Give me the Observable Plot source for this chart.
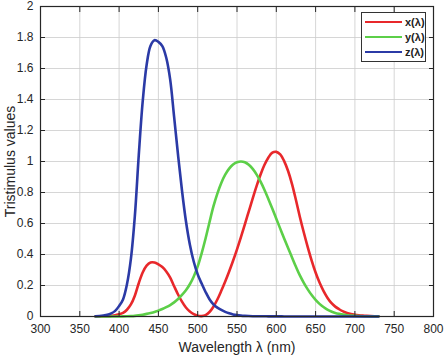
<!DOCTYPE html>
<html><head><meta charset="utf-8">
<script src="https://cdn.jsdelivr.net/npm/d3@7"></script>
<script src="https://cdn.jsdelivr.net/npm/@observablehq/plot@0.6"></script>
<style>
body{margin:0;background:#fff;font-family:"Liberation Sans",Arial,sans-serif;}
#wrap{position:relative;width:444px;height:357px;}
#legend{position:absolute;left:361px;top:12px;width:65px;height:50px;border:1px solid #333;background:#fff;font-size:11px;font-weight:bold;color:#222;box-sizing:border-box;}
#legend .row{position:absolute;left:3px;height:14px;display:flex;align-items:center;}
#legend .sw{width:37px;height:0;border-top:2.5px solid;margin-right:3px;}
</style></head><body>
<div id="wrap"><div id="legend"></div></div>
<script>
const wavelengths = [370,375,380,385,390,395,400,405,410,415,420,425,430,435,440,445,450,455,460,465,470,475,480,485,490,495,500,505,510,515,520,525,530,535,540,545,550,555,560,565,570,575,580,585,590,595,600,605,610,615,620,625,630,635,640,645,650,655,660,665,670,675,680,685,690,695,700,705,710,715,720,725,730];
const xbar = [0.000415,0.000742,0.001368,0.002236,0.004243,0.00765,0.01431,0.02319,0.04351,0.07763,0.13438,0.21477,0.2839,0.3285,0.34828,0.34806,0.3362,0.3187,0.2908,0.2511,0.19536,0.1421,0.09564,0.05795,0.03201,0.0147,0.0049,0.0024,0.0093,0.0291,0.06327,0.1096,0.1655,0.22575,0.2904,0.3597,0.43345,0.51205,0.5945,0.6784,0.7621,0.8425,0.9163,0.9786,1.0263,1.0567,1.0622,1.0456,1.0026,0.9384,0.85445,0.7514,0.6424,0.5419,0.4479,0.3608,0.2835,0.2187,0.1649,0.1212,0.0874,0.0636,0.04677,0.0329,0.0227,0.01584,0.011359,0.008111,0.00579,0.004109,0.002899,0.002049,0.00144];
const ybar = [0.0000124,0.000022,0.000039,0.000064,0.00012,0.000217,0.000396,0.00064,0.00121,0.00218,0.004,0.0073,0.0116,0.01684,0.023,0.0298,0.038,0.048,0.06,0.0739,0.09098,0.1126,0.13902,0.1693,0.20802,0.2586,0.323,0.4073,0.503,0.6082,0.71,0.7932,0.862,0.91485,0.954,0.9803,0.99495,1.0,0.995,0.9786,0.952,0.9154,0.87,0.8163,0.757,0.6949,0.631,0.5668,0.503,0.4412,0.381,0.321,0.265,0.217,0.175,0.1382,0.107,0.0816,0.061,0.04458,0.032,0.0232,0.017,0.01192,0.00821,0.005723,0.004102,0.002929,0.002091,0.001484,0.001047,0.00074,0.00052];
const zbar = [0.001946,0.003486,0.00645,0.01055,0.02005,0.03621,0.06785,0.1102,0.2074,0.3713,0.6456,1.03905,1.3856,1.62296,1.74706,1.7826,1.77211,1.7441,1.6692,1.5281,1.28764,1.0419,0.81295,0.6162,0.46518,0.3533,0.272,0.2123,0.1582,0.1117,0.07825,0.05725,0.04216,0.02984,0.0203,0.0134,0.00875,0.00575,0.0039,0.00275,0.0021,0.0018,0.00165,0.0014,0.0011,0.001,0.0008,0.0006,0.00034,0.00024,0.00019,0.0001,0.00005,0.00003,0.00002,0.00001,0,0,0,0,0,0,0,0,0,0,0,0,0,0,0,0,0];
const seriesNames = ["x(λ)","y(λ)","z(λ)"];
const seriesColors = ["#e8282b","#5ccf48","#2b3aa6"];
const xTicks = [300,350,400,450,500,550,600,650,700,750,800];
const yTicks = [0,0.2,0.4,0.6,0.8,1,1.2,1.4,1.6,1.8,2];

const series = [xbar, ybar, zbar];
const data = [];
series.forEach((vals, s) => vals.forEach((v, i) => data.push({w: wavelengths[i], v, s: seriesNames[s]})));

const font = '"Liberation Sans", Arial, sans-serif';
const chart = Plot.plot({
  width: 444, height: 357,
  marginLeft: 40, marginRight: 11, marginTop: 6, marginBottom: 41,
  style: {fontFamily: font, fontSize: "12px", color: "#262626", background: "transparent"},
  x: {domain: [300, 800]},
  y: {domain: [0, 2]},
  color: {domain: seriesNames, range: seriesColors},
  marks: [
    Plot.gridX(xTicks, {stroke: "#ccc", strokeOpacity: 1, strokeWidth: 0.8}),
    Plot.gridY(yTicks, {stroke: "#ccc", strokeOpacity: 1, strokeWidth: 0.8}),
    Plot.line(data, {x: "w", y: "v", z: "s", stroke: "s", strokeWidth: 2.6, curve: "catmull-rom"}),
    Plot.axisX(xTicks, {anchor: "bottom", tickSize: -5, tickPadding: 13, stroke: "#262626", label: null, fontSize: 12}),
    Plot.axisX(xTicks, {anchor: "top", tickSize: -5, text: null, label: null, stroke: "#262626"}),
    Plot.axisY(yTicks, {anchor: "left", tickSize: -5, tickPadding: 12, stroke: "#262626", label: null, fontSize: 12, tickFormat: d => String(d)}),
    Plot.axisY(yTicks, {anchor: "right", tickSize: -5, text: null, label: null, stroke: "#262626"}),
    Plot.frame({stroke: "#262626", strokeWidth: 1.2}),
    Plot.text(["Wavelength λ (nm)"], {frameAnchor: "bottom", lineAnchor: "middle", textAnchor: "middle", dy: 31, fontSize: 14, fill: "#262626", text: d => d}),
    Plot.text(["Tristimulus values"], {frameAnchor: "left", lineAnchor: "middle", textAnchor: "middle", dx: -30, rotate: -90, fontSize: 14, fill: "#262626", text: d => d})
  ]
});
document.getElementById("wrap").prepend(chart);
const lg = document.getElementById("legend");
seriesNames.forEach((n, i) => {
  const r = document.createElement("div");
  r.className = "row";
  r.style.top = (2 + i * 15) + "px";
  r.innerHTML = `<span class="sw" style="border-color:${seriesColors[i]}"></span><span>${n}</span>`;
  lg.appendChild(r);
});
</script>
</body></html>
